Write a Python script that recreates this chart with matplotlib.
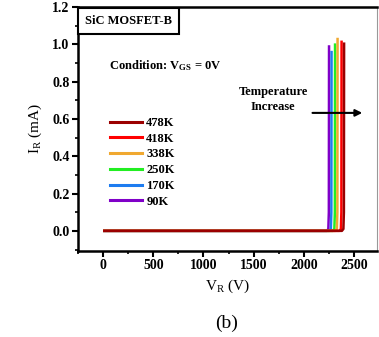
"""Reverse I-V breakdown curves of SiC MOSFET-B at several temperatures."""

import matplotlib

matplotlib.use("Agg")
import matplotlib.pyplot as plt

temperatures = ["478K", "418K", "338K", "250K", "170K", "90K"]
colors = ["#9b0000", "#ff0000", "#f0a830", "#22ee22", "#1e7cf0", "#8000c8"]

# reverse voltage (V) / leakage current (mA) per temperature
voltages = {
    "478K": [0, 500, 1000, 1500, 2000, 2380, 2395, 2400, 2402],
    "418K": [0, 500, 1000, 1500, 2000, 2355, 2370, 2375, 2377],
    "338K": [0, 500, 1000, 1500, 2000, 2315, 2330, 2335, 2337],
    "250K": [0, 500, 1000, 1500, 2000, 2290, 2305, 2310, 2312],
    "170K": [0, 500, 1000, 1500, 2000, 2255, 2270, 2275, 2277],
    "90K": [0, 500, 1000, 1500, 2000, 2230, 2245, 2250, 2252],
}
currents = {
    "478K": [0, 0, 0, 0, 0, 0, 0.01, 0.1, 1.01],
    "418K": [0, 0, 0, 0, 0, 0, 0.01, 0.1, 1.02],
    "338K": [0, 0, 0, 0, 0, 0, 0.01, 0.1, 1.035],
    "250K": [0, 0, 0, 0, 0, 0, 0.01, 0.1, 1.005],
    "170K": [0, 0, 0, 0, 0, 0, 0.01, 0.1, 0.965],
    "90K": [0, 0, 0, 0, 0, 0, 0.01, 0.1, 0.995],
}

x_ticks = [0, 500, 1000, 1500, 2000, 2500]
y_ticks = [0.0, 0.2, 0.4, 0.6, 0.8, 1.0, 1.2]

plt.rcParams["font.family"] = ["Liberation Serif", "DejaVu Serif"]
plt.rcParams["font.weight"] = "bold"
plt.rcParams["mathtext.fontset"] = "custom"
plt.rcParams["mathtext.rm"] = "Liberation Serif:bold"
plt.rcParams["mathtext.it"] = "Liberation Serif:bold"
plt.rcParams["mathtext.bf"] = "Liberation Serif:bold"

fig = plt.figure(figsize=(3.79, 3.37), dpi=100)
ax = fig.add_axes([78 / 379, 1 - 251 / 337, 299 / 379, 244 / 337])

for name, color in reversed(list(zip(temperatures, colors))):
    ax.plot(voltages[name], currents[name], color=color, linewidth=1.8,
            solid_joinstyle="round", solid_capstyle="butt")

ax.set_xlim(-250, 2730)
ax.set_ylim(-0.108, 1.2)
ax.set_xticks(x_ticks)
ax.set_yticks(y_ticks)
ax.set_xticks([-250, 250, 750, 1250, 1750, 2250], minor=True)
ax.set_yticks([-0.1, 0.1, 0.3, 0.5, 0.7, 0.9, 1.1], minor=True)
ax.yaxis.set_major_formatter(matplotlib.ticker.FormatStrFormatter("%.1f"))
ax.tick_params(which="major", direction="out", length=4, width=1.5, labelsize=10, pad=2)
ax.tick_params(which="minor", direction="out", length=2, width=1.2)
for side in ("left", "bottom", "top"):
    ax.spines[side].set_linewidth(1.8)
ax.spines["right"].set_linewidth(0.8)
ax.spines["right"].set_color("#999999")

ax.set_xlabel(r"V$_\mathregular{R}$ (V)", fontsize=11, labelpad=4)
ax.set_ylabel(r"I$_\mathregular{R}$ (mA)", fontsize=11, labelpad=6)

ax.text(0.024, 0.966, "SiC MOSFET-B", transform=ax.transAxes, fontsize=9,
        va="top", ha="left",
        bbox=dict(boxstyle="square,pad=0.55", fc="white", ec="black", lw=1.5))
ax.text(0.105, 0.76, r"Condition: V$_\mathregular{GS}$ = 0V", transform=ax.transAxes,
        fontsize=9, va="center", ha="left")

handles = [matplotlib.lines.Line2D([], [], color=c, linewidth=2.2) for c in colors]
ax.legend(handles, temperatures, loc="upper left", bbox_to_anchor=(0.09, 0.57),
          frameon=False, fontsize=9, handlelength=2.6, handletextpad=0.3,
          labelspacing=0.3, borderaxespad=0)

ax.text(0.652, 0.621, "Temperature\nIncrease", transform=ax.transAxes, fontsize=9,
        ha="center", va="center", linespacing=1.25)
ax.annotate("", xy=(0.96, 0.566), xytext=(0.775, 0.566), xycoords="axes fraction",
            arrowprops=dict(arrowstyle="-|>", color="black", lw=1.5,
                            mutation_scale=10))

fig.text(227 / 379, 1 - 323 / 337, "(b)", fontsize=14, fontweight="normal",
         ha="center", va="center")

fig.savefig("out.png", dpi=100)
